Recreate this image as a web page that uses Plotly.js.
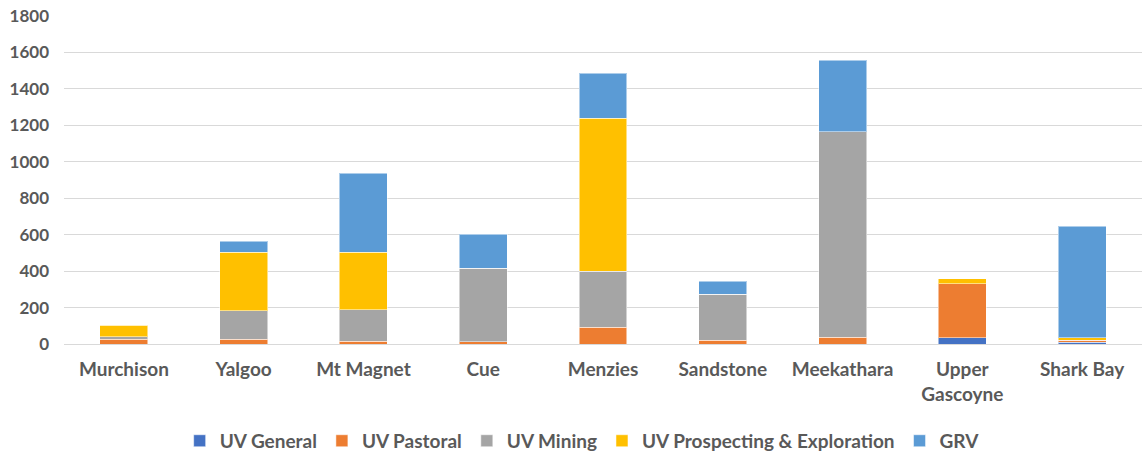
<!DOCTYPE html>
<html>
<head>
<meta charset="utf-8">
<script src="https://cdn.plot.ly/plotly-3.0.1.min.js"></script>
<style>
  html, body { margin: 0; padding: 0; background: #fff; }
  #chart { width: 1146px; height: 455px; }
</style>
</head>
<body>
<div id="chart"></div>
<script>
// districts along the x axis
const districts = ['Murchison', 'Yalgoo', 'Mt Magnet', 'Cue', 'Menzies', 'Sandstone',
                   'Meekathara', 'Upper<br>Gascoyne', 'Shark Bay'];

// stacked series, bottom to top
const uvGeneral     = [0,   0,   0,   0,   0,   0,   0,    33,  10];
const uvPastoral    = [26,  27,  16,  13,  93,  20,  38,   298, 10];
const uvMining      = [15,  156, 171, 402, 305, 252, 1126, 0,   0];
const uvProspecting = [62,  320, 316, 0,   842, 0,   0,    26,  15];
const grv           = [0,   60,  434, 186, 245, 72,  392,  0,   610];

const seriesNames  = ['UV General', 'UV Pastoral', 'UV Mining', 'UV Prospecting & Exploration', 'GRV'];
const seriesValues = [uvGeneral, uvPastoral, uvMining, uvProspecting, grv];
const seriesColors = ['#4472C4', '#ED7D31', '#A5A5A5', '#FFC000', '#5B9BD5'];

const yTicks = [0, 200, 400, 600, 800, 1000, 1200, 1400, 1600, 1800];

const data = seriesNames.map((name, i) => ({
    type: 'bar',
    name: name,
    x: districts,
    y: seriesValues[i],
    marker: { color: seriesColors[i], line: { color: 'rgba(255,255,255,0.5)', width: 1 } },
    hoverinfo: 'x+y+name'
}));

const layout = {
    barmode: 'stack',
    bargap: 0.6,
    width: 1146,
    height: 455,
    paper_bgcolor: '#ffffff',
    plot_bgcolor: '#ffffff',
    font: { family: 'Lato, "Open Sans", sans-serif', color: '#595959', size: 19, weight: 'bold' },
    margin: { t: 16, r: 4, b: 111, l: 64 },
    xaxis: {
        type: 'category',
        tickfont: { size: 19, color: '#595959', weight: 'bold' },
        ticks: '',
        showline: true,
        linecolor: '#D9D9D9',
        linewidth: 1,
        ticklabelstandoff: 8
    },
    yaxis: {
        range: [0, 1800],
        tickvals: yTicks,
        ticktext: yTicks.map(String),
        showgrid: true,
        gridcolor: '#D9D9D9',
        gridwidth: 1,
        zeroline: false,
        showline: false,
        ticks: '',
        ticklabelstandoff: 14,
        tickfont: { size: 17, color: '#595959', weight: 'bold' }
    },
    showlegend: true,
    legend: {
        orientation: 'h',
        x: 0.508,
        xanchor: 'center',
        xref: 'container',
        y: 0.031,
        yanchor: 'middle',
        yref: 'container',
        font: { size: 19, color: '#595959', weight: 'bold' },
        traceorder: 'normal',
        itemwidth: 14
    }
};

Plotly.newPlot('chart', data, layout, { displayModeBar: false, staticPlot: true });
</script>
</body>
</html>
